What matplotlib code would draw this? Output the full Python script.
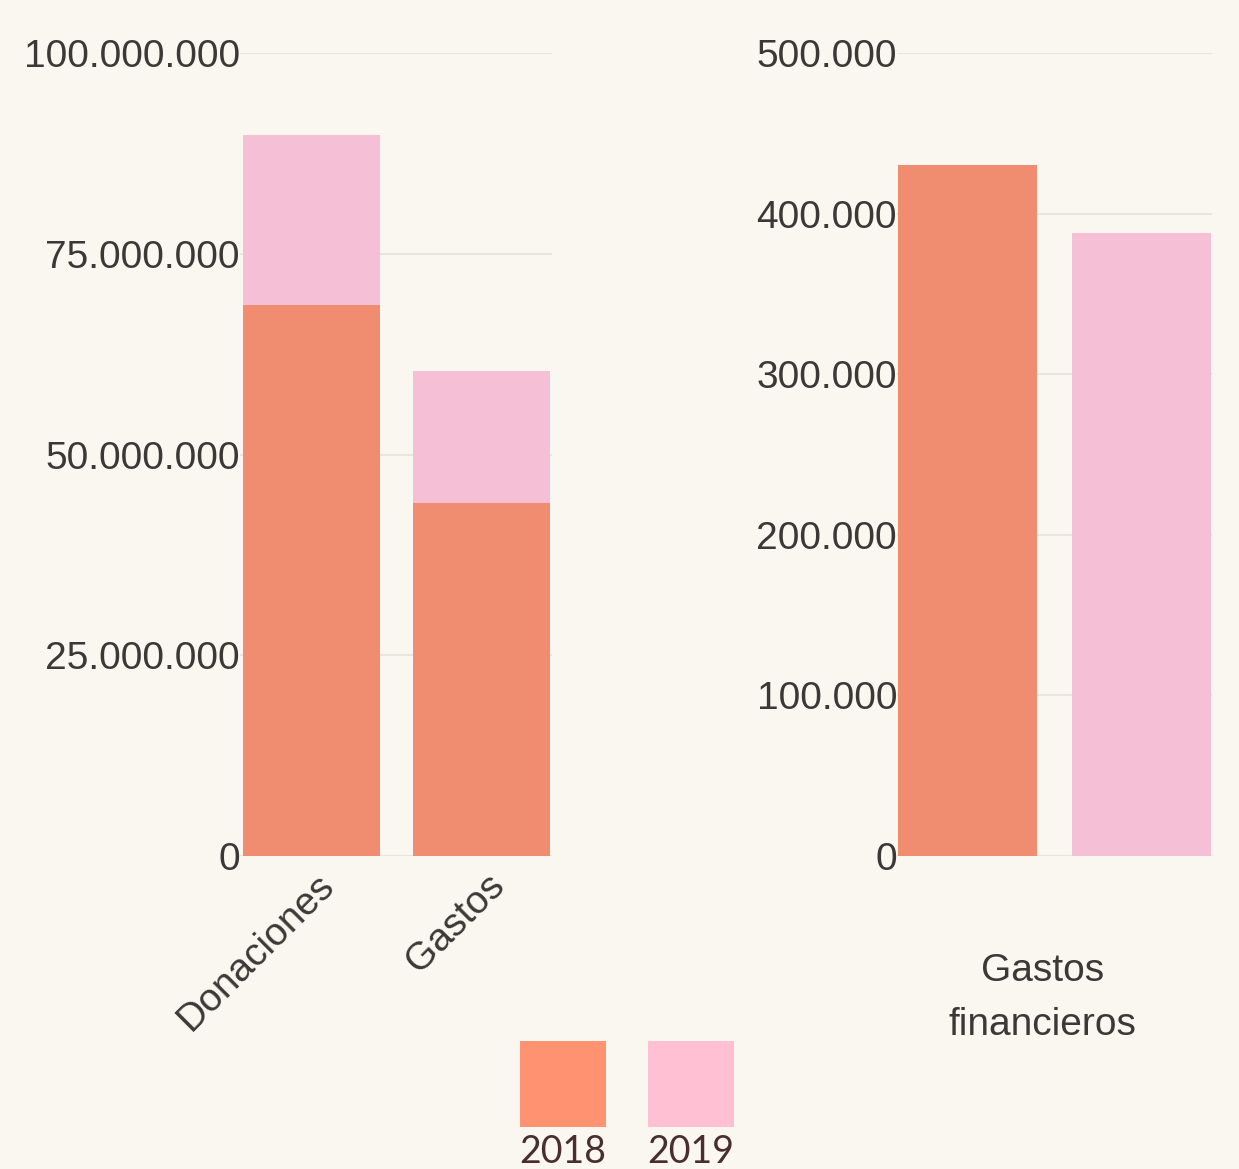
import matplotlib.pyplot as plt
import matplotlib.transforms as mtransforms
from matplotlib.patches import Rectangle
from matplotlib.ticker import FuncFormatter

# data
years = ['2018', '2019']
cats_left = ['Donaciones', 'Gastos']
left_2018 = [68600000, 44000000]
left_2019 = [21200000, 16400000]   # stacked on top of 2018
cat_right = 'Gastos\nfinancieros'
right_2018 = 430000
right_2019 = 388000

bg = '#f9f7f0'
c2018 = '#f08c6f'
c2019 = '#f5bfd5'
txt = '#3b3937'
grid_c = '#e8e5dc'

plt.rcParams['font.family'] = ['Liberation Sans', 'DejaVu Sans']


def dots(x, pos):
    return f'{int(x):,}'.replace(',', '.')


fig = plt.figure(figsize=(12.39, 11.69), dpi=100)
fig.patch.set_facecolor(bg)

ax1 = fig.add_axes([0.1937, 0.2677, 0.2518, 0.687])
ax2 = fig.add_axes([0.724, 0.2677, 0.2542, 0.687])

for ax in (ax1, ax2):
    ax.set_facecolor(bg)
    for s in ax.spines.values():
        s.set_visible(False)
    ax.tick_params(axis='both', length=0, labelsize=28, colors=txt, pad=0)
    ax.yaxis.grid(True, color=grid_c, linewidth=1.5)
    ax.set_axisbelow(True)
    ax.yaxis.set_major_formatter(FuncFormatter(dots))

# left: stacked
x = [0, 1]
ax1.bar(x, left_2018, width=0.806, color=c2018)
ax1.bar(x, left_2019, width=0.806, bottom=left_2018, color=c2019)
ax1.set_ylim(0, 100000000)
ax1.set_yticks([0, 25000000, 50000000, 75000000, 100000000])
ax1.set_xlim(-0.42, 1.415)
ax1.set_xticks(x)
ax1.set_xticklabels(cats_left, rotation=45, ha='right', va='top', rotation_mode='anchor')
ax1.tick_params(axis='x', pad=8)
shift = mtransforms.ScaledTranslation(5 / 100, 0, fig.dpi_scale_trans)
for lab in ax1.get_xticklabels():
    lab.set_transform(lab.get_transform() + shift)

# right: grouped
ax2.bar([-0.25], [right_2018], width=0.4, color=c2018)
ax2.bar([0.25], [right_2019], width=0.4, color=c2019)
ax2.set_ylim(0, 500000)
ax2.set_yticks([0, 100000, 200000, 300000, 400000, 500000])
ax2.set_xlim(-0.453, 0.454)
ax2.set_xticks([-0.035])
ax2.set_xticklabels([cat_right], linespacing=1.62)
ax2.tick_params(axis='x', pad=70)

# legend below
lg = fig.add_axes([0, 0, 1, 1], facecolor='none')
lg.set_xlim(0, 1239)
lg.set_ylim(1169, 0)
lg.axis('off')
for i, (yr, col) in enumerate(zip(years, ['#ff9270', '#ffc0d3'])):
    x0 = 520 + i * 128
    lg.add_patch(Rectangle((x0, 1041), 86, 86, color=col, linewidth=0))
    lg.text(x0 + 43, 1152, yr, ha='center', va='center', fontsize=27,
            color='#4a2e2e', family=['Lato', 'DejaVu Sans'])

fig.savefig('out.png', dpi=100, facecolor=bg)
